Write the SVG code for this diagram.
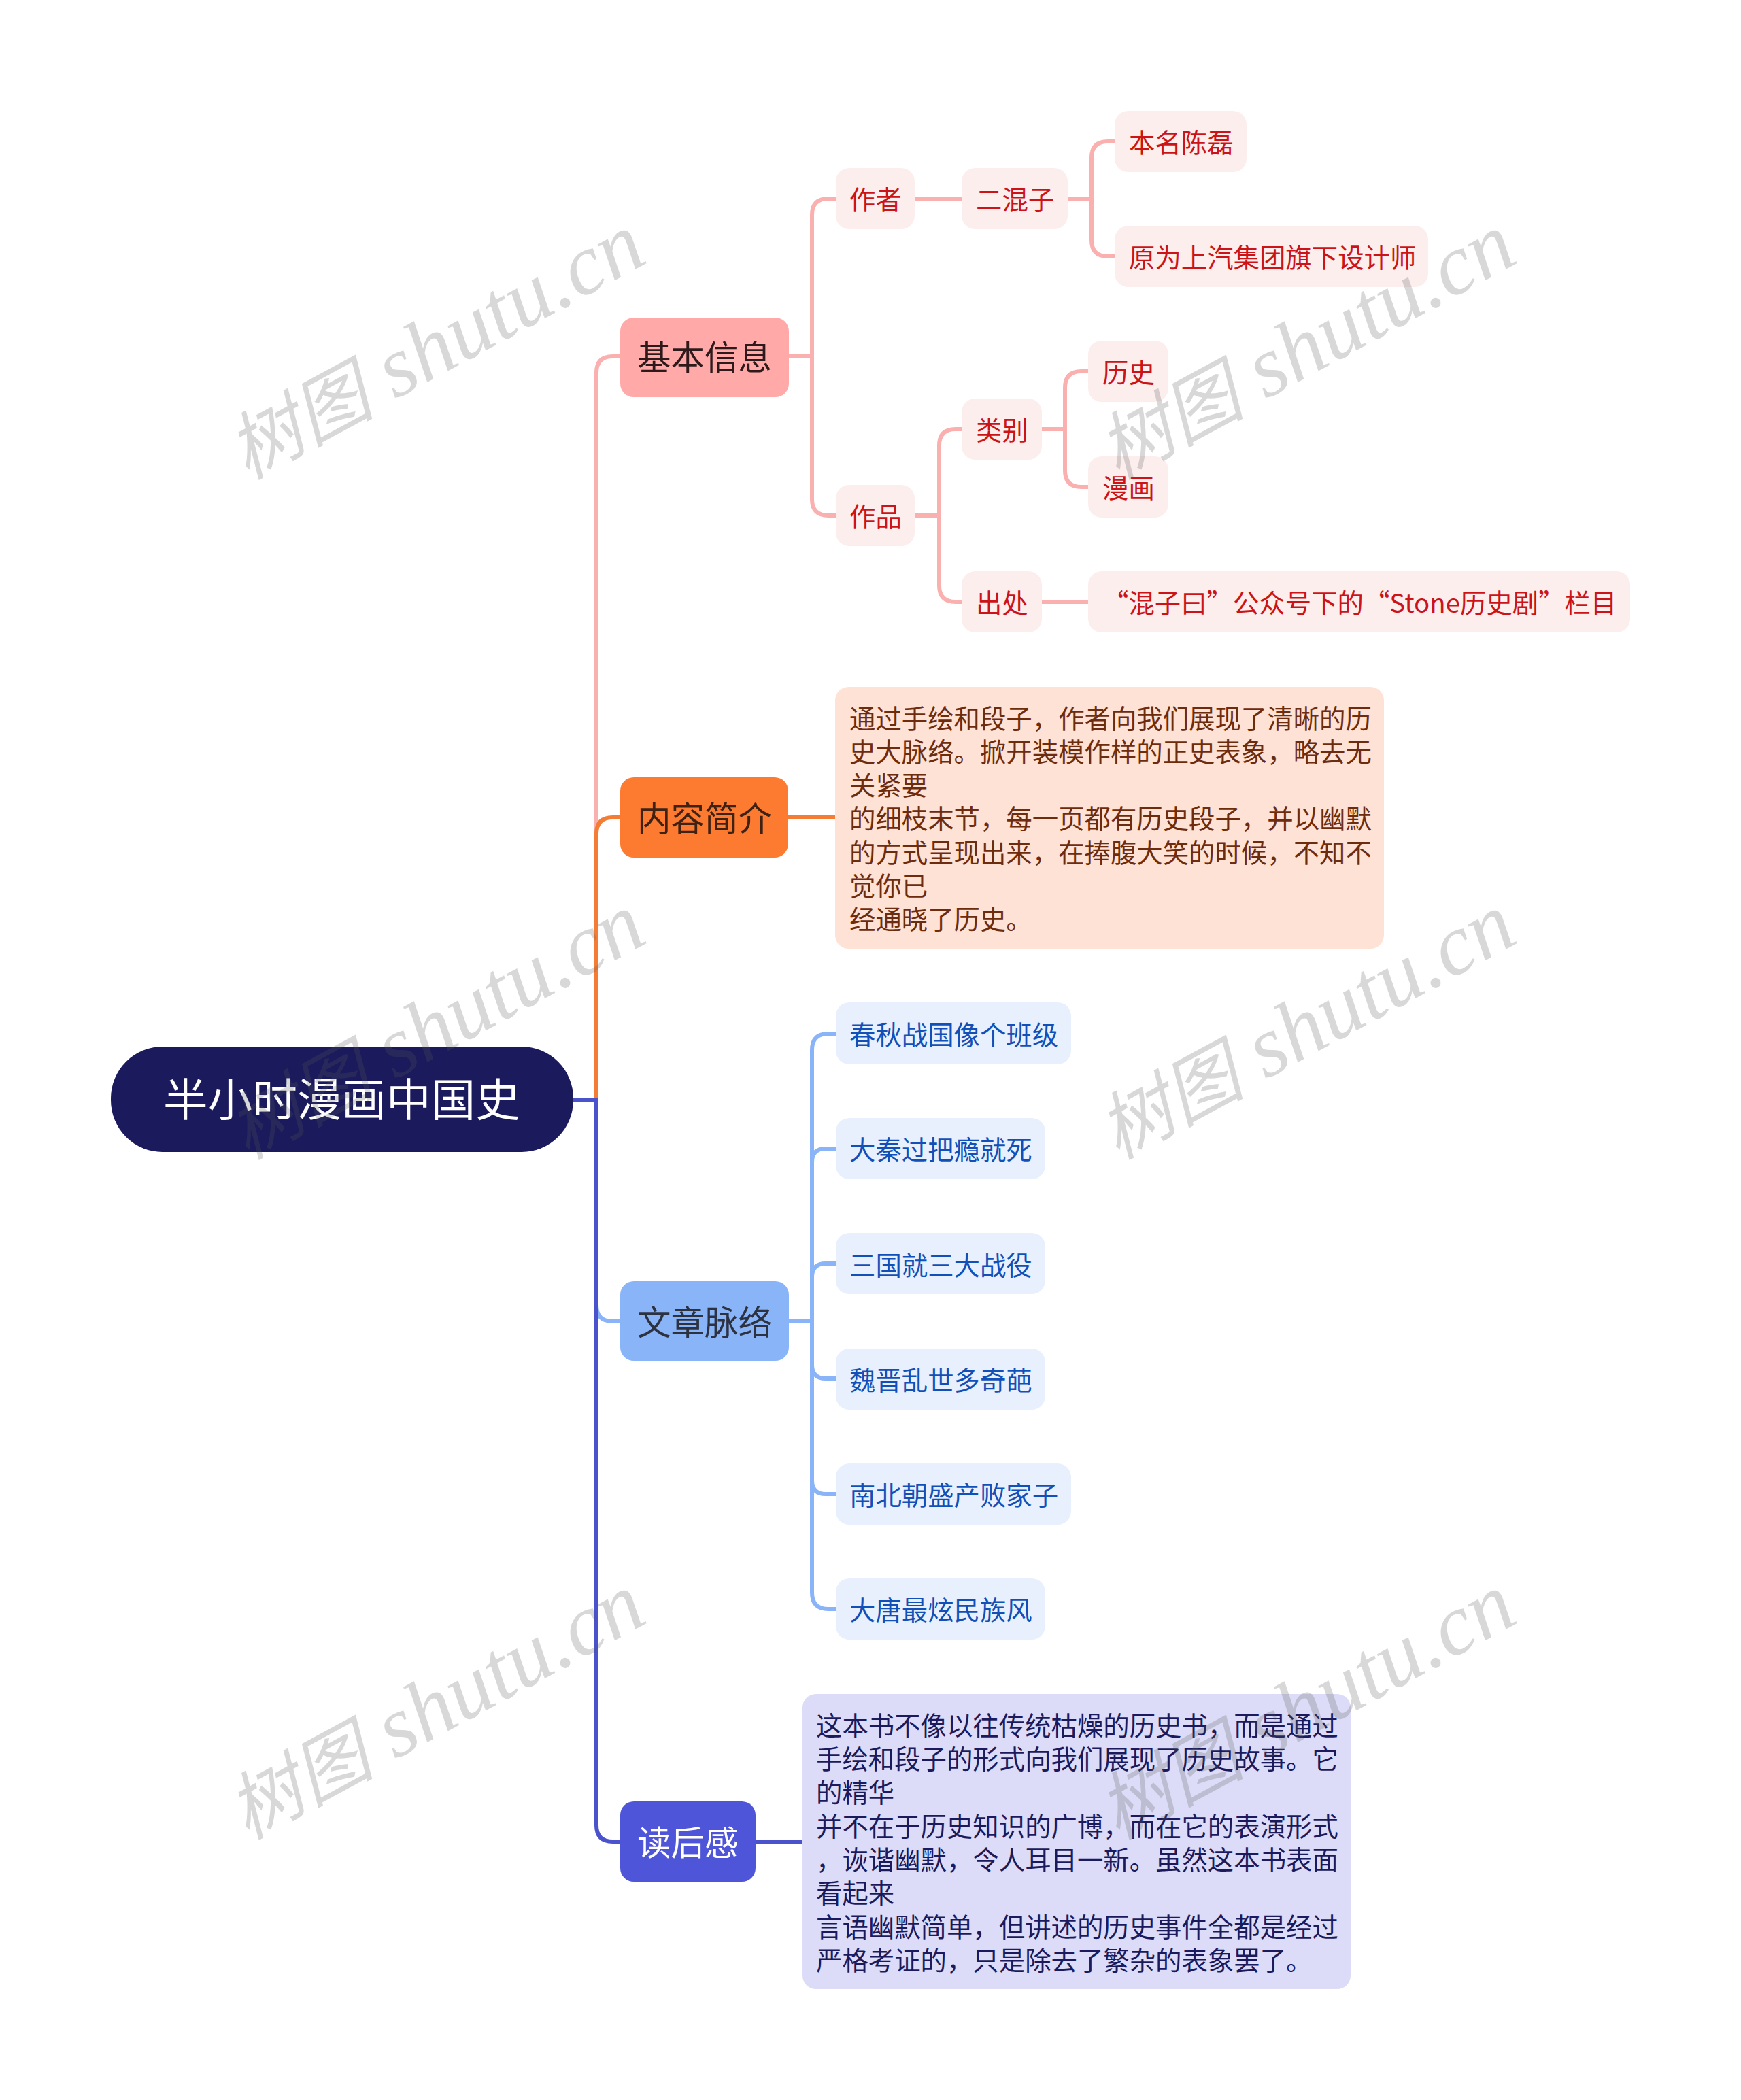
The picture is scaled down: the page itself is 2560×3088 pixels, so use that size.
<svg xmlns="http://www.w3.org/2000/svg" width="2560" height="3088" viewBox="0 0 2560 3088">
<style>
text{font-family:"Noto Sans CJK SC","Noto Sans",sans-serif;white-space:pre}
.c{fill:none;stroke-width:6;stroke-linecap:butt}
.pk{stroke:#fbb0b0}.or{stroke:#f57c35}.bl{stroke:#8ab4f8}.in{stroke:#4a52cc}
.s{font-size:38.4px}.m{font-size:49.5px}
.rs{fill:#fdeeee}.rt{fill:#cc1418}.bs{fill:#e8f0fe}.bt{fill:#1150b8}
.wm{font-style:italic;fill:#555;fill-opacity:.23;font-family:"Liberation Serif","Noto Sans CJK SC",serif}
</style>
<defs>
<g id="wm"><text class="wm" font-size="127" transform="rotate(-28.5)"><tspan font-size="108">树图</tspan> shutu.cn</text></g>
</defs>
<rect width="2560" height="3088" fill="#fff"/>
<g id="connectors">
<path class="c pk" d="M843 1617H877V548Q877 524 901 524H912"/>
<path class="c or" d="M877 1617V1226Q877 1202 901 1202H912"/>
<path class="c bl" d="M877 1617V1919Q877 1943 901 1943H912"/>
<path class="c in" d="M843 1617H877V2684Q877 2708 901 2708H912"/>
<path class="c pk" d="M1160 524H1194M1229 292H1218Q1194 292 1194 316V734Q1194 758 1218 758H1229"/>
<path class="c pk" d="M1345 292H1414M1570 292H1605M1639 208H1629Q1605 208 1605 232V353Q1605 377 1629 377H1639"/>
<path class="c pk" d="M1345 758H1381M1414 631H1405Q1381 631 1381 655V861Q1381 885 1405 885H1414"/>
<path class="c pk" d="M1532 631H1566M1600 546H1590Q1566 546 1566 570V692Q1566 716 1590 716H1600M1532 885H1600"/>
<path class="c or" d="M1159 1202H1228"/>
<path class="c bl" d="M1160 1943H1194M1229 1520H1218Q1194 1520 1194 1544V2342Q1194 2366 1218 2366H1229M1194 1709Q1194 1689 1214 1689H1229M1194 1878Q1194 1858 1214 1858H1229M1194 2007Q1194 2027 1214 2027H1229M1194 2177Q1194 2197 1214 2197H1229"/>
<path class="c in" d="M1111 2708H1180"/>
</g>
<g id="root"><rect x="163" y="1539" width="680" height="155" rx="76" fill="#1a1a5c"/><text x="240" y="1641" font-size="65.6" fill="#fff">半小时漫画中国史</text></g>
<g id="n-jiben"><rect x="912" y="467" width="248" height="117" rx="20" fill="#ffa9a9"/><text class="m" x="937" y="544" fill="#2e1a1a">基本信息</text></g>
<g id="n-zuozhe"><rect class="rs" x="1229" y="247" width="116" height="90" rx="20"/><text class="s rt" x="1249" y="308">作者</text></g>
<g id="n-erhunzi"><rect class="rs" x="1414" y="247" width="156" height="90" rx="20"/><text class="s rt" x="1435" y="308">二混子</text></g>
<g id="n-benming"><rect class="rs" x="1639" y="163" width="194" height="90" rx="20"/><text class="s rt" x="1660" y="224">本名陈磊</text></g>
<g id="n-yuanwei"><rect class="rs" x="1639" y="332" width="461" height="90" rx="20"/><text class="s rt" x="1660" y="393">原为上汽集团旗下设计师</text></g>
<g id="n-zuopin"><rect class="rs" x="1229" y="713" width="116" height="90" rx="20"/><text class="s rt" x="1249" y="774">作品</text></g>
<g id="n-leibie"><rect class="rs" x="1414" y="586" width="118" height="90" rx="20"/><text class="s rt" x="1435" y="647">类别</text></g>
<g id="n-lishi"><rect class="rs" x="1600" y="501" width="118" height="90" rx="20"/><text class="s rt" x="1621" y="562">历史</text></g>
<g id="n-manhua"><rect class="rs" x="1600" y="671" width="118" height="90" rx="20"/><text class="s rt" x="1621" y="732">漫画</text></g>
<g id="n-chuchu"><rect class="rs" x="1414" y="840" width="118" height="90" rx="20"/><text class="s rt" x="1435" y="901">出处</text></g>
<g id="n-hunzi"><rect class="rs" x="1600" y="840" width="797" height="90" rx="20"/><text class="s rt" x="1621" y="901">“混子曰”公众号下的“Stone历史剧”栏目</text></g>
<g id="n-neirong"><rect x="912" y="1143" width="247" height="118" rx="20" fill="#fd7b30"/><text class="m" x="937" y="1222" fill="#3e2214">内容简介</text></g>
<g id="n-neirong-d"><rect x="1228" y="1010" width="807" height="385" rx="20" fill="#fee2d5"/>
<g class="s" fill="#6e2c0e">
<text x="1249" y="1071">通过手绘和段子，作者向我们展现了清晰的历</text>
<text x="1249" y="1120">史大脉络。掀开装模作样的正史表象，略去无</text>
<text x="1249" y="1169">关紧要</text>
<text x="1249" y="1218">的细枝末节，每一页都有历史段子，并以幽默</text>
<text x="1249" y="1268">的方式呈现出来，在捧腹大笑的时候，不知不</text>
<text x="1249" y="1317">觉你已</text>
<text x="1249" y="1366">经通晓了历史。</text>
</g></g>
<g id="n-wenzhang"><rect x="912" y="1884" width="248" height="117" rx="20" fill="#8ab4f8"/><text class="m" x="937" y="1963" fill="#2c3240">文章脉络</text></g>
<g id="n-b1"><rect class="bs" x="1229" y="1474" width="346" height="91" rx="20"/><text class="s bt" x="1249" y="1536">春秋战国像个班级</text></g>
<g id="n-b2"><rect class="bs" x="1229" y="1644" width="308" height="90" rx="20"/><text class="s bt" x="1249" y="1705">大秦过把瘾就死</text></g>
<g id="n-b3"><rect class="bs" x="1229" y="1813" width="308" height="90" rx="20"/><text class="s bt" x="1249" y="1875">三国就三大战役</text></g>
<g id="n-b4"><rect class="bs" x="1229" y="1983" width="308" height="90" rx="20"/><text class="s bt" x="1249" y="2044">魏晋乱世多奇葩</text></g>
<g id="n-b5"><rect class="bs" x="1229" y="2152" width="346" height="90" rx="20"/><text class="s bt" x="1249" y="2213">南北朝盛产败家子</text></g>
<g id="n-b6"><rect class="bs" x="1229" y="2321" width="308" height="90" rx="20"/><text class="s bt" x="1249" y="2382">大唐最炫民族风</text></g>
<g id="n-duhou"><rect x="912" y="2649" width="199" height="118" rx="20" fill="#4f55d8"/><text class="m" x="937" y="2728" fill="#fff">读后感</text></g>
<g id="n-duhou-d"><rect x="1180" y="2491" width="806" height="434" rx="20" fill="#dcdcf8"/>
<g class="s" fill="#1a1a5c">
<text x="1200" y="2552">这本书不像以往传统枯燥的历史书，而是通过</text>
<text x="1200" y="2601">手绘和段子的形式向我们展现了历史故事。它</text>
<text x="1200" y="2650">的精华</text>
<text x="1200" y="2700">并不在于历史知识的广博，而在它的表演形式</text>
<text x="1200" y="2749">，诙谐幽默，令人耳目一新。虽然这本书表面</text>
<text x="1200" y="2798">看起来</text>
<text x="1200" y="2848">言语幽默简单，但讲述的历史事件全都是经过</text>
<text x="1200" y="2897">严格考证的，只是除去了繁杂的表象罢了。</text>
</g></g>
<g id="watermarks">
<use href="#wm" transform="translate(363 706)"/>
<use href="#wm" transform="translate(1643 706)"/>
<use href="#wm" transform="translate(363 1706)"/>
<use href="#wm" transform="translate(1643 1706)"/>
<use href="#wm" transform="translate(363 2706)"/>
<use href="#wm" transform="translate(1643 2706)"/>
</g>
</svg>
